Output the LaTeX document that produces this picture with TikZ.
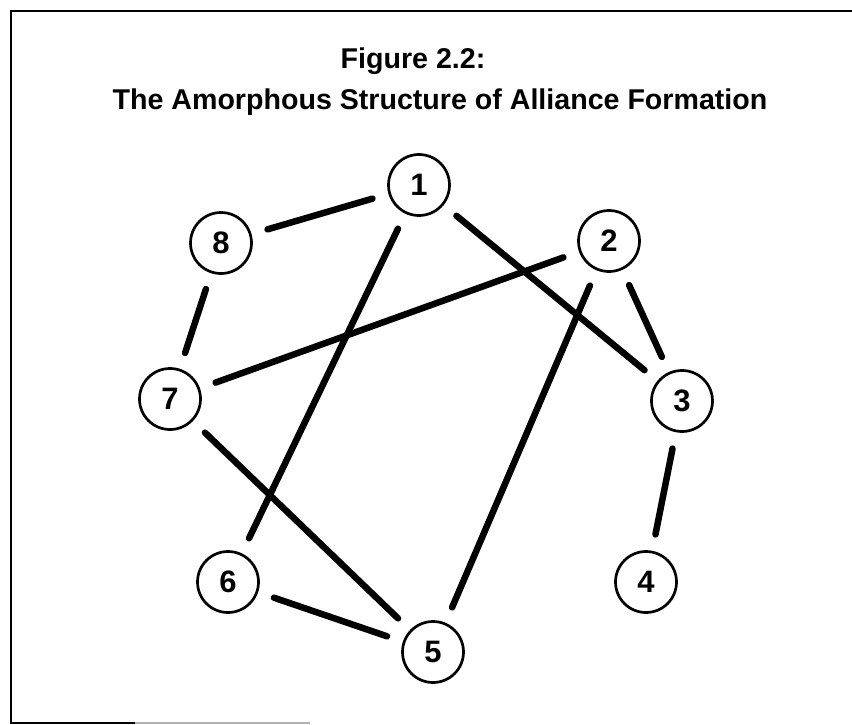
\documentclass[tikz,border=0pt]{standalone}
\usepackage{fontspec}
\setmainfont{Liberation Sans}
\begin{document}
\begin{tikzpicture}[x=1pt,y=-1pt,
  vertex/.style={circle,draw,line width=2.7pt,minimum size=61pt,inner sep=0pt,outer sep=0pt,
    font=\fontsize{31}{33}\selectfont\bfseries},
  link/.style={line width=6.5pt,line cap=round,shorten >=18pt,shorten <=18pt},
  frame/.style={line width=2.4pt},
  titletext/.style={font=\fontsize{28.6}{32}\selectfont\bfseries,inner sep=0pt,anchor=base}]
\useasboundingbox (0,0) rectangle (852,725);
% frame
\coordinate (fTL) at (11,11);
\coordinate (fTR) at (852,11);
\coordinate (fBL) at (11,723);
\coordinate (fB1) at (135,723);
\coordinate (fB2) at (310,723);
\draw[frame] (fTR) -- (fTL) -- (fBL) -- (fB1);
\draw[line width=1.5pt,black!30] (fB1) -- (fB2);
% title
\node[titletext] (t1) at (413,69) {Figure 2.2:};
\node[titletext] (t2) at (440,110) {The Amorphous Structure of Alliance Formation};
% nodes
\node[vertex] (n1) at (419,185) {1};
\node[vertex] (n2) at (609,241) {2};
\node[vertex] (n8) at (221,243) {8};
\node[vertex] (n7) at (170,399) {7};
\node[vertex] (n3) at (682,401) {3};
\node[vertex] (n6) at (228,582) {6};
\node[vertex] (n4) at (646,582) {4};
\node[vertex] (n5) at (433,652) {5};
% links
\draw[link] (n8) -- (n1);
\draw[link] (n1) -- (n6);
\draw[link] (n1) -- (n3);
\draw[link] (n2) -- (n7);
\draw[link] (n2) -- (n3);
\draw[link] (n2) -- (n5);
\draw[link] (n8) -- (n7);
\draw[link] (n7) -- (n5);
\draw[link] (n3) -- (n4);
\draw[link] (n6) -- (n5);
\end{tikzpicture}
\end{document}
